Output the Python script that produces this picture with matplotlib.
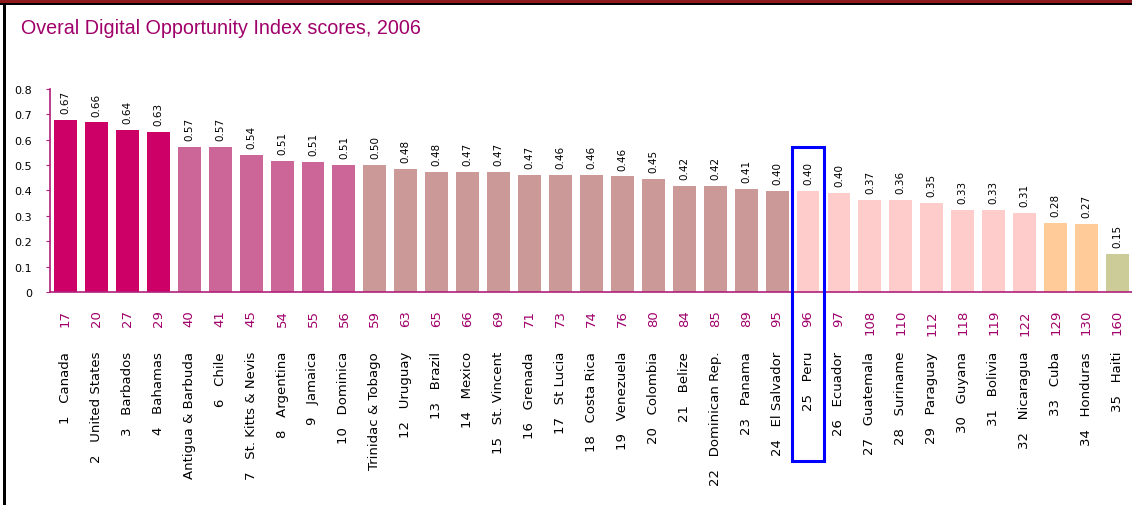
import matplotlib
matplotlib.use("Agg")
import matplotlib.pyplot as plt
from matplotlib.patches import Rectangle
import matplotlib.transforms as mtransforms

plt.rcParams['font.family'] = ['Liberation Sans', 'DejaVu Sans']

countries = ["1   Canada", "2   United States", "3   Barbados", "4   Bahamas", "Antigua & Barbuda",
             "6   Chile", "7   St. Kitts & Nevis", "8   Argentina", "9   Jamaica", "10   Dominica",
             "Trinidac & Tobago", "12   Uruguay", "13   Brazil", "14   Mexico", "15   St. Vincent",
             "16   Grenada", "17   St Lucia", "18   Costa Rica", "19   Venezuela", "20   Colombia",
             "21   Belize", "22   Dominican Rep.", "23   Panama", "24   El Salvador", "25   Peru",
             "26   Ecuador", "27   Guatemala", "28   Suriname", "29   Paraguay", "30   Guyana",
             "31   Bolivia", "32   Nicaragua", "33   Cuba", "34   Honduras", "35   Haiti"]
world_rank = ["17", "20", "27", "29", "40", "41", "45", "54", "55", "56", "59", "63", "65", "66",
              "69", "71", "73", "74", "76", "80", "84", "85", "89", "95", "96", "97", "108",
              "110", "112", "118", "119", "122", "129", "130", "160"]
scores = [0.678, 0.667, 0.638, 0.628, 0.572, 0.572, 0.539, 0.517, 0.510, 0.500, 0.500,
          0.484, 0.471, 0.471, 0.471, 0.461, 0.461, 0.461, 0.455, 0.445, 0.416, 0.416,
          0.404, 0.399, 0.399, 0.389, 0.361, 0.361, 0.349, 0.322, 0.322, 0.310, 0.272,
          0.267, 0.150]
score_labels = ["0.67", "0.66", "0.64", "0.63", "0.57", "0.57", "0.54", "0.51", "0.51", "0.51",
                "0.50", "0.48", "0.48", "0.47", "0.47", "0.47", "0.46", "0.46", "0.46", "0.45",
                "0.42", "0.42", "0.41", "0.40", "0.40", "0.40", "0.37", "0.36", "0.35", "0.33",
                "0.33", "0.31", "0.28", "0.27", "0.15"]
groups = [0, 0, 0, 0, 1, 1, 1, 1, 1, 1, 2, 2, 2, 2, 2, 2, 2, 2, 2, 2, 2, 2, 2, 2,
          3, 3, 3, 3, 3, 3, 3, 3, 4, 4, 5]
group_colors = ["#CC0066", "#CC6699", "#CC9999", "#FFCCCC", "#FFCC99", "#CCCC99"]
highlight = "25   Peru"
yticks = [0, 0.1, 0.2, 0.3, 0.4, 0.5, 0.6, 0.7, 0.8]

W, H = 1132, 506
fig = plt.figure(figsize=(W / 100, H / 100), dpi=100)
fig.patch.set_facecolor("white")

# frame decorations
fig.patches.append(Rectangle((0, 1 - 4 / H), 1, 4 / H, transform=fig.transFigure,
                             facecolor="#8E1A1E", edgecolor="none", zorder=0))
fig.patches.append(Rectangle((0, 1 - 6 / H), 1, 2 / H, transform=fig.transFigure,
                             facecolor="black", edgecolor="none", zorder=0))
fig.patches.append(Rectangle((3 / W, 0), 3 / W, 1 - 6 / H, transform=fig.transFigure,
                             facecolor="black", edgecolor="none", zorder=0))

fig.text(21 / W, 1 - 28 / H, "Overal Digital Opportunity Index scores, 2006",
         color="#A0006A", fontsize=14.2, va="center", ha="left")

ax = fig.add_axes([50 / W, 1 - 293.3 / H, 1 - 50 / W, (293.3 - 89.6) / H])
n = len(scores)
xs = list(range(n))
colors = [group_colors[g] for g in groups]
ax.bar(xs, scores, width=0.74, color=colors, edgecolor="none")
ax.set_xlim(-0.5, 34.47)
ax.set_ylim(0, 0.8)

for s in ["top", "right"]:
    ax.spines[s].set_visible(False)
for s in ["left", "bottom"]:
    ax.spines[s].set_color("#B0207A")
    ax.spines[s].set_linewidth(1.2)
ax.set_yticks(yticks)
ax.set_yticklabels([f"{t:g}" for t in yticks], fontsize=8, color="black",
                   family="DejaVu Sans")
ax.tick_params(axis="y", length=3, color="#B0207A", pad=10)
ax.set_xticks([])

for x, v, lab in zip(xs, scores, score_labels):
    ax.annotate(lab, (x, v), xytext=(0, 5), textcoords="offset points", rotation=90,
                ha="center", va="bottom", fontsize=7.5, color="black", family="DejaVu Sans")

trans = mtransforms.blended_transform_factory(ax.transData, fig.transFigure)
for x, r, c in zip(xs, world_rank, countries):
    ax.text(x, 1 - 310 / H, r, transform=trans, rotation=90, ha="center", va="top",
            fontsize=9.5, color="#A0006A", clip_on=False, family="DejaVu Sans")
    ax.text(x, 1 - 352 / H, c, transform=trans, rotation=90, ha="center", va="top",
            fontsize=9.5, color="black", clip_on=False, family="DejaVu Sans")

hi = countries.index(highlight)
ax.add_patch(Rectangle((hi - 0.53, 1 - 462 / H), 1.06, (462 - 148) / H, transform=trans,
                       facecolor="none", edgecolor="#0000FF", linewidth=2.2, clip_on=False,
                       zorder=5))

fig.savefig("out.png", dpi=100)
